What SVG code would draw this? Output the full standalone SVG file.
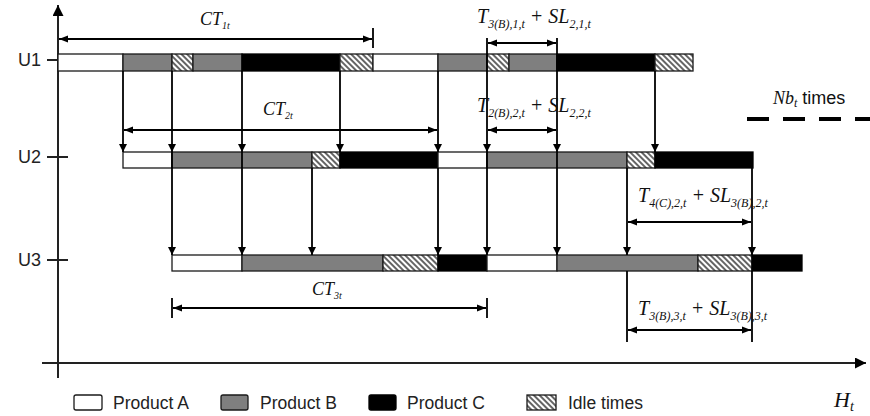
<svg xmlns="http://www.w3.org/2000/svg" width="870" height="416" viewBox="0 0 870 416">
<defs>
<style>
.A{fill:#fff;stroke:#1a1a1a;stroke-width:1.3}
.B{fill:#7f7f7f;stroke:#1a1a1a;stroke-width:1.3}
.C{fill:#000;stroke:#000;stroke-width:1.3}
.I{fill:url(#hatch);stroke:#1a1a1a;stroke-width:1.3}
.ln{stroke:#000;stroke-width:1.8;fill:none}
.ar{stroke:#000;stroke-width:1.8;fill:none;marker-end:url(#ah)}
.dim{stroke:#000;stroke-width:1.8;fill:none;marker-start:url(#dh);marker-end:url(#dh)}
.ax{stroke:#222;stroke-width:2;fill:none}
.m{font-family:"Liberation Serif",serif;font-style:italic;font-size:20px;fill:#111}
.s{font-size:12px}
.u{font-family:"Liberation Sans",Arial,sans-serif;font-size:18px;fill:#222}
.lg{font-family:"Liberation Sans",Arial,sans-serif;font-size:17.5px;fill:#222}
</style>
<pattern id="hatch" patternUnits="userSpaceOnUse" width="4" height="4" patternTransform="rotate(45)">
<rect width="4" height="4" fill="#fff"/>
<line x1="0" y1="2" x2="4" y2="2" stroke="#222" stroke-width="1.4"/>
</pattern>
<marker id="ah" viewBox="0 0 10 10" refX="10" refY="5" markerWidth="8" markerHeight="9" orient="auto" markerUnits="userSpaceOnUse">
<path d="M0,0 L10,5 L0,10 z" fill="#000"/>
</marker>
<marker id="dh" viewBox="0 0 10 10" refX="10" refY="5" markerWidth="9" markerHeight="9" orient="auto-start-reverse" markerUnits="userSpaceOnUse">
<path d="M0,1 L10,5 L0,9 z" fill="#000"/>
</marker>
<marker id="axh" viewBox="0 0 10 10" refX="10" refY="5" markerWidth="11" markerHeight="11" orient="auto" markerUnits="userSpaceOnUse">
<path d="M0,0 L10,5 L0,10 z" fill="#000"/>
</marker>
</defs>
<rect width="870" height="416" fill="#fff"/>

<g id="axes">
<line class="ax" x1="58" y1="378" x2="58" y2="5" marker-end="url(#axh)"/>
<line class="ax" x1="42" y1="363" x2="866" y2="363" marker-end="url(#axh)"/>
<line class="ax" x1="47" y1="60" x2="68" y2="60"/>
<line class="ax" x1="47" y1="157" x2="68" y2="157"/>
<line class="ax" x1="47" y1="260" x2="68" y2="260"/>
<text class="u" x="18" y="66">U1</text>
<text class="u" x="18" y="163">U2</text>
<text class="u" x="18" y="266">U3</text>
<text class="m" x="834" y="407" style="font-size:22px">H<tspan class="s" dy="4" style="font-size:14px">t</tspan></text>
</g>

<g id="U1">
<rect class="A" x="58" y="54" width="65" height="17"/>
<rect class="B" x="123" y="54" width="49" height="17"/>
<rect class="I" x="172" y="54" width="21" height="17"/>
<rect class="B" x="193" y="54" width="49" height="17"/>
<rect class="C" x="242" y="54" width="98" height="17"/>
<rect class="I" x="340" y="54" width="33" height="17"/>
<rect class="A" x="373" y="54" width="65" height="17"/>
<rect class="B" x="438" y="54" width="49" height="17"/>
<rect class="I" x="487" y="54" width="22" height="17"/>
<rect class="B" x="509" y="54" width="48" height="17"/>
<rect class="C" x="557" y="54" width="98" height="17"/>
<rect class="I" x="655" y="54" width="38" height="17"/>
</g>

<g id="U2">
<rect class="A" x="123" y="152" width="49" height="16"/>
<rect class="B" x="172" y="152" width="140" height="16"/>
<rect class="I" x="312" y="152" width="28" height="16"/>
<rect class="C" x="340" y="152" width="98" height="16"/>
<rect class="A" x="438" y="152" width="49" height="16"/>
<rect class="B" x="487" y="152" width="140" height="16"/>
<rect class="I" x="627" y="152" width="28" height="16"/>
<rect class="C" x="655" y="152" width="98" height="16"/>
</g>

<g id="U3">
<rect class="A" x="172" y="255" width="70" height="16"/>
<rect class="B" x="242" y="255" width="141" height="16"/>
<rect class="I" x="383" y="255" width="55" height="16"/>
<rect class="C" x="438" y="255" width="49" height="16"/>
<rect class="A" x="487" y="255" width="70" height="16"/>
<rect class="B" x="557" y="255" width="141" height="16"/>
<rect class="I" x="698" y="255" width="54" height="16"/>
<rect class="C" x="752" y="255" width="50" height="16"/>
</g>

<g id="connectors">
<path class="ar" d="M123,71 V152"/>
<path class="ar" d="M172,71 V152"/>
<path class="ar" d="M242,71 V152"/>
<path class="ar" d="M340,71 V152"/>
<path class="ar" d="M438,71 V152"/>
<path class="ln" d="M487,38 V71"/>
<path class="ar" d="M487,71 V152"/>
<path class="ln" d="M557,38 V71"/>
<path class="ar" d="M557,71 V152"/>
<path class="ar" d="M655,71 V152"/>
<path class="ar" d="M172,152 V255"/>
<path class="ar" d="M242,152 V255"/>
<path class="ar" d="M312,168 V255"/>
<path class="ar" d="M438,168 V255"/>
<path class="ar" d="M487,152 V255"/>
<path class="ar" d="M557,152 V255"/>
<path class="ar" d="M627,168 V255"/>
<path class="ar" d="M752,168 V255"/>
<path class="ln" d="M627,271 V342"/>
<path class="ln" d="M752,271 V342"/>
<path class="ln" d="M373,28 V48"/>
<path class="ln" d="M172,298 V318"/>
<path class="ln" d="M487,298 V318"/>
<path class="dim" d="M59,39 H372"/>
<path class="dim" d="M124,130 H437"/>
<path class="dim" d="M173,308 H486"/>
<path class="dim" d="M488,43 H556"/>
<path class="dim" d="M488,130 H556"/>
<path class="dim" d="M628,222 H751"/>
<path class="dim" d="M628,330 H751"/>
<path d="M747,119 H870" stroke="#000" stroke-width="4" stroke-dasharray="22,14"/>
</g>

<g id="labels">
<text class="m" x="200" y="25" style="font-size:18px">CT<tspan class="s" dy="4" style="font-size:10px">1t</tspan></text>
<text class="m" x="263" y="115" style="font-size:18px">CT<tspan class="s" dy="4" style="font-size:10px">2t</tspan></text>
<text class="m" x="312" y="295" style="font-size:18px">CT<tspan class="s" dy="4" style="font-size:10px">3t</tspan></text>
<text class="m" x="477" y="23">T<tspan class="s" dy="5">3(B),1,t</tspan><tspan dy="-5"> + SL</tspan><tspan class="s" dy="5">2,1,t</tspan></text>
<text class="m" x="477" y="112">T<tspan class="s" dy="5">2(B),2,t</tspan><tspan dy="-5"> + SL</tspan><tspan class="s" dy="5">2,2,t</tspan></text>
<text class="m" x="638" y="202">T<tspan class="s" dy="5">4(C),2,t</tspan><tspan dy="-5"> + SL</tspan><tspan class="s" dy="5">3(B),2,t</tspan></text>
<text class="m" x="638" y="315">T<tspan class="s" dy="5">3(B),3,t</tspan><tspan dy="-5"> + SL</tspan><tspan class="s" dy="5">3(B),3,t</tspan></text>
<text class="m" x="773" y="104" style="font-size:18px">Nb<tspan class="s" dy="3">t</tspan><tspan dy="-3" style="font-family:'Liberation Sans',Arial,sans-serif;font-style:normal;font-size:18px"> times</tspan></text>
</g>

<g id="legend">
<rect class="A" x="74" y="395" width="28" height="15" rx="2"/>
<text class="lg" x="113" y="409">Product A</text>
<rect class="B" x="221" y="395" width="27" height="15" rx="2"/>
<text class="lg" x="260" y="409">Product B</text>
<rect class="C" x="369" y="395" width="27" height="15" rx="2"/>
<text class="lg" x="407" y="409">Product C</text>
<rect class="I" x="527" y="395" width="29" height="15"/>
<text class="lg" x="568" y="409">Idle times</text>
</g>
</svg>
